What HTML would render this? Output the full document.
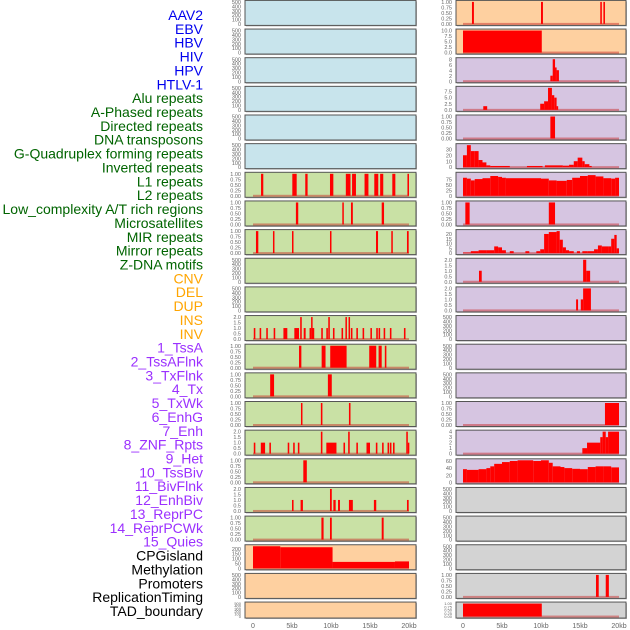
<!DOCTYPE html>
<html><head><meta charset="utf-8"><style>
html,body{margin:0;padding:0;background:#fff;width:630px;height:630px;overflow:hidden}
svg{display:block;font-family:"Liberation Sans",sans-serif}
</style></head><body>
<svg id="chart" width="630" height="630" viewBox="0 0 630 630" xmlns="http://www.w3.org/2000/svg"></svg>
<script>
const trackLabels=["AAV2","EBV","HBV","HIV","HPV","HTLV-1","Alu repeats","A-Phased repeats","Directed repeats","DNA transposons","G-Quadruplex forming repeats","Inverted repeats","L1 repeats","L2 repeats","Low_complexity A/T rich regions","Microsatellites","MIR repeats","Mirror repeats","Z-DNA motifs","CNV","DEL","DUP","INS","INV","1_TssA","2_TssAFlnk","3_TxFlnk","4_Tx","5_TxWk","6_EnhG","7_Enh","8_ZNF_Rpts","9_Het","10_TssBiv","11_BivFlnk","12_EnhBiv","13_ReprPC","14_ReprPCWk","15_Quies","CPGisland","Methylation","Promoters","ReplicationTiming","TAD_boundary"];
const labelGroupSizes=[6,13,5,15,5];
const labelColors=["#0000ee","#006400","#ffa500","#9b30ff","#000000"];
const xTicks=[0,5,10,15,20];
const xTickLabels=["0","5kb","10kb","15kb","20kb"];
const emptyTicks=[0,100,200,300,400,500];
const unitTicks=[0,0.25,0.5,0.75,1];
const twoTicks=[0,0.5,1,1.5,2];
const leftBg=["#c8e4ec","#c8e4ec","#c8e4ec","#c8e4ec","#c8e4ec","#c8e4ec","#c9e1a5","#c9e1a5","#c9e1a5","#c9e1a5","#c9e1a5","#c9e1a5","#c9e1a5","#c9e1a5","#c9e1a5","#c9e1a5","#c9e1a5","#c9e1a5","#c9e1a5","#fed0a0","#fed0a0","#fed0a0"];
const rightBg=["#fed0a0","#fed0a0","#d6c5e1","#d6c5e1","#d6c5e1","#d6c5e1","#d6c5e1","#d6c5e1","#d6c5e1","#d6c5e1","#d6c5e1","#d6c5e1","#d6c5e1","#d6c5e1","#d6c5e1","#d6c5e1","#d6c5e1","#d3d3d3","#d3d3d3","#d3d3d3","#d3d3d3","#d3d3d3"];
// segments: [startKb, endKb, value]
const L6=[[1.03,1.32,1],[5.04,5.6,1],[6.7,7.0,1],[9.87,10.3,1],[11.9,12.5,1],[12.7,13.2,1],[14.3,14.8,1],[15.55,16.06,1],[16.3,16.7,1],[17.86,18.25,1],[19.8,20,1]];
const L7=[[5.5,5.8,1],[11.45,11.6,1],[12.56,12.8,1],[16.5,16.8,1]];
const L8=[[0.38,0.68,1],[2.56,2.74,1],[5.0,5.17,1],[9.87,10.04,1],[15.77,16.03,1],[17.73,17.9,1],[19.74,19.96,1]];
const L11=[[0.1,0.3,1],[0.85,1.05,1],[1.7,1.9,1],[2.65,2.85,1],[3.9,4.4,1],[5.3,5.9,1],[6.05,6.25,2],[6.5,6.75,1],[7.25,7.45,1],[7.45,7.6,2],[7.6,7.85,1],[8.75,8.95,1],[9.4,9.6,1],[9.65,9.85,2],[10.25,10.45,1],[11.35,11.55,1],[11.85,12.0,2],[12.25,12.4,2],[12.55,12.75,1],[13.25,13.45,1],[14.05,14.25,1],[15.05,15.25,1],[15.8,16.0,1],[16.1,16.3,1],[16.75,16.95,1],[17.55,17.75,1],[19.35,19.55,1]];
const L12=[[5.9,6.2,1],[8.8,9.3,1],[9.9,12.0,1],[14.9,15.8,1],[16.1,16.5,1],[16.9,17.1,1]];
const L13=[[2.2,2.7,1],[9.6,10.1,1]];
const L14=[[6.15,6.3,1],[8.7,8.9,1],[12.3,12.5,1]];
const L15=[[0.1,0.3,1],[1.0,1.55,1],[2.1,2.3,1],[4.45,4.65,1],[5.15,5.35,1],[5.75,5.95,1],[8.7,8.9,2],[9.4,10.7,1],[11.6,11.8,1],[12.2,12.4,2],[13.25,13.45,1],[14.55,15.0,1],[15.75,15.95,1],[16.55,16.75,1],[17.25,17.45,1],[17.55,17.75,1],[17.95,18.15,1],[19.65,19.85,2],[19.85,20,1]];
const L16=[[6.45,6.9,1]];
const L17=[[5.0,5.2,1],[6.1,6.4,1],[9.87,10.1,2],[10.3,10.6,1],[10.9,11.15,1],[12.3,12.8,1],[15.5,15.8,1],[19.74,19.96,1]];
const L18=[[8.77,9.05,1],[9.87,10.1,1],[16.5,16.75,1]];
const L19=[[0,3.5,225],[3.5,10.2,215],[10.2,18.2,65],[18.2,20,70]];
const R0=[[1.15,1.4,1],[10.0,10.25,1],[17.6,17.8,1],[18.0,18.2,1]];
const R1=[[0,10.1,10]];
const R2=[[11.2,11.5,2],[11.5,11.8,8],[11.8,12.0,5],[12.0,12.3,4]];
const R3=[[2.6,3.1,1.5],[9.9,10.4,2.5],[10.4,10.9,3.5],[10.9,11.4,9],[11.4,11.7,6],[11.7,12.0,5],[12.0,12.2,1.5]];
const R4=[[11.2,11.8,1]];
const R5=[[0,0.5,20],[0.5,1.0,37],[1.0,1.5,27],[1.5,2.0,27],[2.0,2.5,12],[2.5,3.0,8],[3.0,3.5,3],[3.5,6.0,2],[8.2,10.2,2],[10.5,12.8,3],[12.8,13.6,2.5],[13.6,14.2,4],[14.2,14.7,10],[14.7,15.3,16],[15.3,15.6,10],[15.6,16.2,5],[16.2,16.5,2]];
const R6=[[0,0.5,82],[0.5,1,78],[1,1.5,70],[1.5,2.5,76],[2.5,3.5,80],[3.5,4.5,90],[4.5,5,86],[5,5.5,82],[5.5,10,80],[10,11,78],[11,12,70],[12,13.3,68],[13.3,14,72],[14,15,82],[15,16,90],[16,17,94],[17,18,88],[18,19,80],[19,19.5,78],[19.5,20,82]];
const R7=[[0.3,0.85,1],[11.0,11.8,1]];
const R8=[[0,1,0.5],[1,2,2],[2,3,3],[3,4,3],[4,4.5,7],[4.5,5,6],[5,5.5,3],[6,6.5,2],[8,8.5,2],[9.4,9.9,2],[9.9,10.4,4],[10.4,11,20],[11,12,22],[12,12.4,23],[12.4,12.8,14],[12.8,13.2,6],[13.2,13.6,3],[13.6,14.2,2],[14.6,15.0,2],[15.3,16,2],[16,16.8,2],[16.8,17.3,4],[17.3,17.8,8],[17.8,18.6,7],[18.6,19.0,7],[19.0,19.4,15],[19.4,19.7,19],[19.7,20,5]];
const R9=[[2.05,2.4,1],[15.4,15.8,2],[15.8,16.3,1]];
const R10=[[14.5,14.75,1],[15.1,15.4,1],[15.4,16.4,2]];
const R14=[[18.2,20,1]];
const R15=[[15.3,15.9,1],[15.9,17.6,2],[17.6,17.9,3],[17.9,18.3,4],[18.3,18.6,3],[18.6,20,4]];
const R16=[[0,0.5,37],[0.5,2,35],[2,3,37],[3,3.5,40],[3.5,4,45],[4,5,52],[5,6,57],[6,7,60],[7,9,62],[9,10,60],[10,11,62],[11,11.5,55],[11.5,12.5,45],[12.5,13,43],[13,14,40],[14,15,38],[15,16,37],[16,17,43],[17,18,45],[18,19,45],[19,20,42]];
const R20=[[17.05,17.4,1],[18.3,18.7,1]];
const R21=[[0,10.1,1]];
const leftSegs={6:L6,7:L7,8:L8,11:L11,12:L12,13:L13,14:L14,15:L15,16:L16,17:L17,18:L18,19:L19};
const leftMax={6:1,7:1,8:1,11:2,12:1,13:1,14:1,15:2,16:1,17:2,18:1,19:225};
const leftTicks={6:unitTicks,7:unitTicks,8:unitTicks,11:twoTicks,12:unitTicks,13:unitTicks,14:unitTicks,15:twoTicks,16:unitTicks,17:twoTicks,18:unitTicks,19:[0,50,100,150,200]};
const rightSegs={0:R0,1:R1,2:R2,3:R3,4:R4,5:R5,6:R6,7:R7,8:R8,9:R9,10:R10,14:R14,15:R15,16:R16,20:R20,21:R21};
const rightMax={0:1,1:10,2:8,3:9,4:1,5:37,6:100,7:1,8:23,9:2,10:2,14:1,15:4,16:62,20:1,21:1};
const rightTicks={0:unitTicks,1:[0,2.5,5,7.5,10],2:[0,2,4,6,8],3:[0,2.5,5,7.5],4:unitTicks,5:[0,10,20,30],6:[0,25,50,75],7:unitTicks,8:[0,5,10,15,20],9:twoTicks,10:twoTicks,14:unitTicks,15:[0,1,2,3,4],16:[0,20,40,60],20:unitTicks,21:unitTicks};

const NS="http://www.w3.org/2000/svg";
const svg=document.getElementById("chart");
function mk(tag,attrs,parent){const e=document.createElementNS(NS,tag);for(const k in attrs)e.setAttribute(k,attrs[k]);(parent||svg).appendChild(e);return e;}
function fmt(v,ticks){const dec=ticks.some(t=>t%1!==0);if(!dec)return String(v);const two=ticks.some(t=>Math.round(t*100)%10!==0);return v.toFixed(two?2:1);}

// labels
let idx=0;
labelGroupSizes.forEach((n,g)=>{for(let k=0;k<n;k++){const t=mk("text",{x:203,y:15+idx*13.86+5,"text-anchor":"end","font-size":"14",fill:labelColors[g]});


t.textContent=trackLabels[idx];idx++;}});

function drawPanel(row,side){
  const top=0.4+28.65*row, h=row===21?16:25;
  const px=side==="L"?245:456, pw=side==="L"?171:170;
  const x0=side==="L"?253:463, kbw=7.8;
  const xs=kb=>x0+kb*kbw;
  const segs=(side==="L"?leftSegs:rightSegs)[row];
  const max=segs?(side==="L"?leftMax:rightMax)[row]:500;
  const ticks=segs?(side==="L"?leftTicks:rightTicks)[row]:emptyTicks;
  const bottom=top+h-1.5, ih=h-3;
  const ys=v=>bottom-v/max*ih;
  const g=mk("g",{});
  
  
  mk("rect",{x:px+1,y:top+1,width:pw,height:h,fill:"#b8b8b8"},g);
  mk("rect",{x:px,y:top,width:pw,height:h,fill:(side==="L"?leftBg:rightBg)[row],stroke:"#555",["stroke-width"]:1},g);
  if(segs){
    mk("rect",{x:xs(0),y:bottom-1,width:xs(20)-xs(0),height:2,fill:"rgba(200,30,30,0.45)"},g);
    segs.forEach(s=>{const r=mk("rect",{x:xs(s[0]),y:ys(s[2]),width:Math.max(1.5,xs(s[1])-xs(s[0])),height:bottom-ys(s[2]),fill:"#ff0000"},g);
      
      });
  }
  const fs=row===21?4:5.5;
  ticks.forEach(v=>{const t=mk("text",{x:px-4,y:ys(v)+fs*0.38,"text-anchor":"end","font-size":fs,fill:"#666"},g);
    
    
    t.textContent=fmt(v,ticks);});
}
for(let r=0;r<22;r++){drawPanel(r,"L");drawPanel(r,"R");}
["L","R"].forEach(side=>{const x0=side==="L"?253:463;
  xTicks.forEach((v,i)=>{const t=mk("text",{x:x0+v*7.8,y:628,"text-anchor":"middle","font-size":"7",fill:"#666"});
    
    
    t.textContent=xTickLabels[i];});});
</script>
</body></html>
